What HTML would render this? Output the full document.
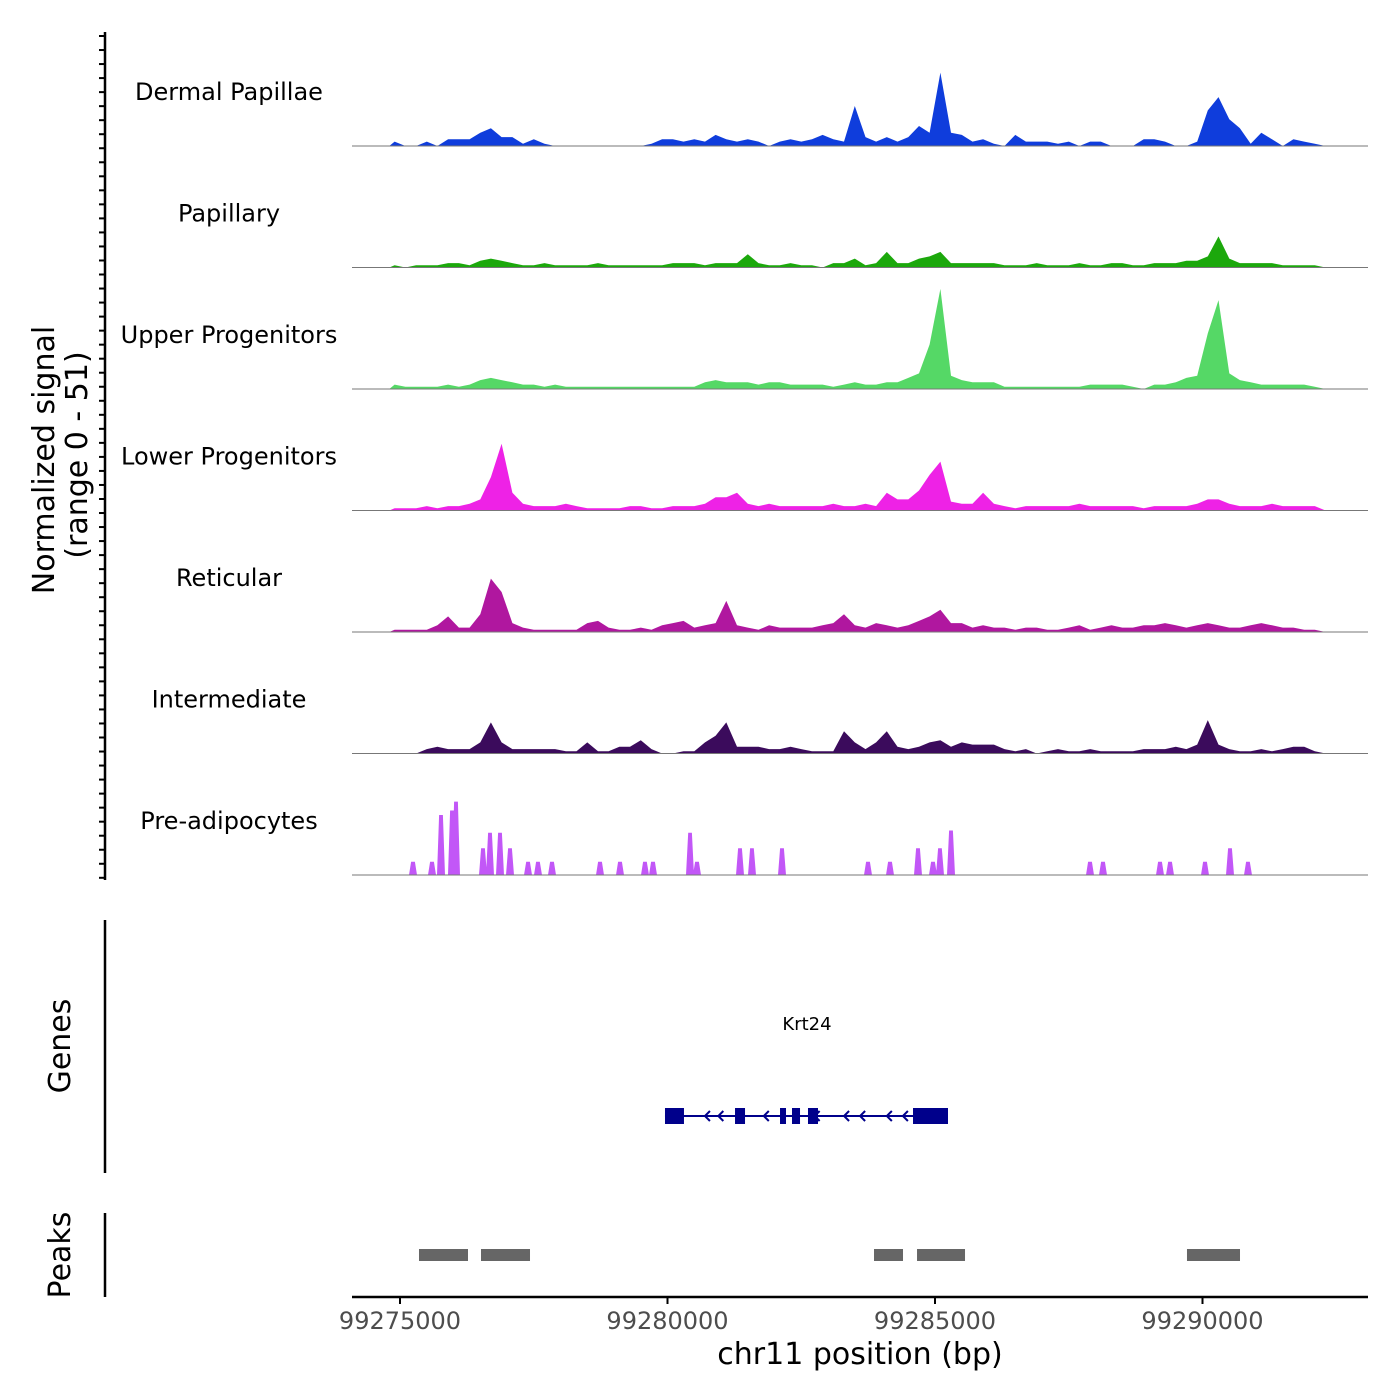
<!DOCTYPE html>
<html><head><meta charset="utf-8">
<style>
body{margin:0;background:#fff;}
svg{display:block;font-family:"DejaVu Sans","Liberation Sans",sans-serif;}
</style></head>
<body>
<svg id="chart" width="1400" height="1400" viewBox="0 0 1400 1400">
<g id="tracks"></g>
<g id="yaxis">
<line x1="105" y1="32" x2="105" y2="880" stroke="#000" stroke-width="2.5"/>
</g>
<text transform="translate(54,460) rotate(-90)" text-anchor="middle" font-size="30">Normalized signal</text>
<text transform="translate(87,455) rotate(-90)" text-anchor="middle" font-size="30">(range 0 - 51)</text>

<g>
<line x1="105" y1="920" x2="105" y2="1173" stroke="#000" stroke-width="2.5"/>
<text transform="translate(70,1046) rotate(-90)" text-anchor="middle" font-size="30">Genes</text>
<text x="807" y="1030" text-anchor="middle" font-size="18">Krt24</text>
<g id="gene"></g>
</g>

<g>
<line x1="105" y1="1213" x2="105" y2="1297" stroke="#000" stroke-width="2.5"/>
<text transform="translate(70,1255) rotate(-90)" text-anchor="middle" font-size="30">Peaks</text>
<g id="peaks"></g>
</g>

<g id="xaxis">
<line x1="352" y1="1297" x2="1368" y2="1297" stroke="#000" stroke-width="2.5"/>
</g>
<text x="860" y="1364" text-anchor="middle" font-size="30">chr11 position (bp)</text>
</svg>
<script>
const xTicks = [99275000, 99280000, 99285000, 99290000];
const trackNames = ["Dermal Papillae","Papillary","Upper Progenitors","Lower Progenitors","Reticular","Intermediate","Pre-adipocytes"];
const trackColors = ["#0f3ddc","#1ca80c","#55d866","#ee22e6","#b0179f","#3b0b5c","#c257f7"];
const binStart = 99274800;
const binSize = 200;
const dermal = [2,0,0,2,0,3,3,3,6,8,4,4,1,3,1,0,0,0,0,0,0,0,0,0,1,3,3,2,3,2,5,3,2,3,2,0,2,3,2,3,5,3,2,18,4,2,4,2,4,9,6,33,6,5,2,3,1,0,5,2,2,2,1,2,0,2,2,0,0,0,3,3,2,0,0,2,16,22,12,8,1,6,3,0,3,2,1,0];
const papillary = [1,0,1,1,1,2,2,1,3,4,3,2,1,1,2,1,1,1,1,2,1,1,1,1,1,1,2,2,2,1,2,2,2,6,2,1,1,2,1,1,0,2,2,4,1,2,7,2,2,4,5,7,2,2,2,2,2,1,1,1,2,1,1,1,2,1,1,2,2,1,1,2,2,2,3,3,5,14,4,2,2,2,2,1,1,1,1,0];
const upperProg = [2,1,1,1,1,2,1,2,4,5,4,3,2,2,1,2,1,1,1,1,1,1,1,1,1,1,1,1,1,3,4,3,3,3,2,3,3,2,2,2,2,1,2,3,2,2,3,3,5,7,20,45,6,4,3,3,3,1,1,1,1,1,1,1,1,2,2,2,2,1,0,2,2,3,5,6,25,40,7,4,3,2,2,2,2,2,1,0];
const lowerProg = [1,1,1,2,1,2,2,3,5,15,30,8,3,2,2,2,3,2,1,1,1,1,2,2,1,1,2,2,2,3,6,6,8,3,2,3,2,2,2,2,2,3,2,2,3,2,8,5,5,9,16,22,4,3,3,8,3,2,1,2,2,2,2,2,3,2,2,2,2,2,1,2,2,2,2,3,5,5,3,2,2,2,3,2,2,2,2,0];
const reticular = [1,1,1,1,3,7,2,2,8,24,18,4,2,1,1,1,1,1,4,5,2,1,1,2,1,3,4,5,2,3,4,14,3,2,1,3,2,2,2,2,3,4,8,3,2,4,3,2,3,5,7,10,4,4,2,3,2,2,1,2,2,1,1,2,3,1,2,3,2,2,3,3,4,3,2,3,4,3,2,2,3,4,3,2,2,1,1,0];
const intermediate = [0,0,0,2,3,2,2,2,5,14,5,2,2,2,2,2,1,1,5,1,1,3,3,6,2,0,0,1,1,5,8,14,3,3,3,2,2,3,2,1,1,1,10,5,2,5,10,3,2,3,5,6,3,5,4,4,4,2,1,2,0,1,2,1,1,2,1,1,1,1,2,2,2,3,2,4,15,4,2,1,1,2,1,2,3,3,1,0];
const preCenters = [99275243,99275598,99275766,99275972,99276047,99276551,99276682,99276869,99277056,99277393,99277579,99277841,99278738,99279112,99279579,99279729,99280421,99280551,99281355,99281579,99282140,99283748,99284159,99284682,99284963,99285093,99285299,99287897,99288140,99289206,99289393,99290047,99290514,99290850];
const preHeights = [6,6,27,29,33,12,19,19,12,6,6,6,6,6,6,6,19,6,12,12,12,6,6,12,6,12,20,6,6,6,6,6,12,6];
const exonStarts = [99279953,99281262,99282103,99282327,99282626,99284589];
const exonEnds = [99280308,99281449,99282215,99282477,99282813,99285243];
const arrowPos = [99280700,99280950,99281800,99282750,99283300,99283600,99284100,99284400];
const peakStarts = [99275355,99276514,99283860,99284664,99289710];
const peakEnds = [99276271,99277430,99284402,99285561,99290701];

const NS='http://www.w3.org/2000/svg';
const X0=99275000, PX0=400, PXPER=267.5/5000;
function xs(bp){return PX0+(bp-X0)*PXPER;}
const trackH=121.4, maxV=51;
function baseY(t){return 146+t*121.5;}
function ys(t,v){return baseY(t)-v/maxV*(trackH-8);}
function mk(tag,attrs,parent){const e=document.createElementNS(NS,tag);for(const k in attrs)e.setAttribute(k,attrs[k]);parent.appendChild(e);return e;}

const tracks=document.getElementById('tracks');
const series=[dermal,papillary,upperProg,lowerProg,reticular,intermediate];
for(let t=0;t<7;t++){
  const g=mk('g',{},tracks);
  
  
  const lab=mk('text',{x:229,y:baseY(t)-46,'text-anchor':'middle','font-size':24},g);
  lab.textContent=trackNames[t];
  
  
  let d='';
  if(t<6){
    const s=series[t];
    d='M'+xs(binStart)+','+baseY(t);
    for(let i=0;i<s.length;i++){d+=' L'+xs(binStart+binSize*(i+0.5)).toFixed(1)+','+ys(t,s[i]).toFixed(1);}
    d+=' L'+xs(binStart+binSize*s.length)+','+baseY(t)+' Z';
  } else {
    for(let i=0;i<preCenters.length;i++){
      const c=preCenters[i],h=ys(t,preHeights[i]),b=baseY(t);
      d+='M'+xs(c-75).toFixed(1)+','+b+' L'+xs(c-35).toFixed(1)+','+h.toFixed(1)+' L'+xs(c+35).toFixed(1)+','+h.toFixed(1)+' L'+xs(c+75).toFixed(1)+','+b+' Z ';
    }
  }
  const p=mk('path',{d:d,fill:trackColors[t]},g);
  
  
  const bl=mk('line',{x1:352,x2:1368,y1:baseY(t),y2:baseY(t),stroke:'#777','stroke-width':1},g);
  
  
}
const ya=document.getElementById('yaxis');
for(let y=36;y<=878;y+=14.03){
  const tk=mk('line',{x1:99,x2:105,y1:y,y2:y,stroke:'#000','stroke-width':2},ya);
  
  
}
const gene=document.getElementById('gene');
const gy=1116;
const gl=mk('line',{x1:xs(99279953),x2:xs(99285243),y1:gy,y2:gy,stroke:'#00008b','stroke-width':2},gene);


for(let i=0;i<exonStarts.length;i++){
  const r=mk('rect',{x:xs(exonStarts[i]),y:gy-8,width:xs(exonEnds[i])-xs(exonStarts[i]),height:16,fill:'#00008b'},gene);
  
  
}
arrowPos.forEach(bp=>{
  const x=xs(bp);
  const a=mk('path',{d:'M'+(x+5)+','+(gy-5)+' L'+x+','+gy+' L'+(x+5)+','+(gy+5),fill:'none',stroke:'#00008b','stroke-width':2},gene);
  
  
});
const pk=document.getElementById('peaks');
for(let i=0;i<peakStarts.length;i++){
  const r=mk('rect',{x:xs(peakStarts[i]),y:1249,width:xs(peakEnds[i])-xs(peakStarts[i]),height:12,fill:'#666'},pk);
  
  
}
const xa=document.getElementById('xaxis');
xTicks.forEach(v=>{
  const x=xs(v);
  const tk=mk('line',{x1:x,x2:x,y1:1297,y2:1304,stroke:'#000','stroke-width':2},xa);
  
  
  const tl=mk('text',{x:x,y:1329,'text-anchor':'middle','font-size':24,fill:'#4d4d4d'},xa);
  tl.textContent=v;
  
  
});
</script>
</body></html>
